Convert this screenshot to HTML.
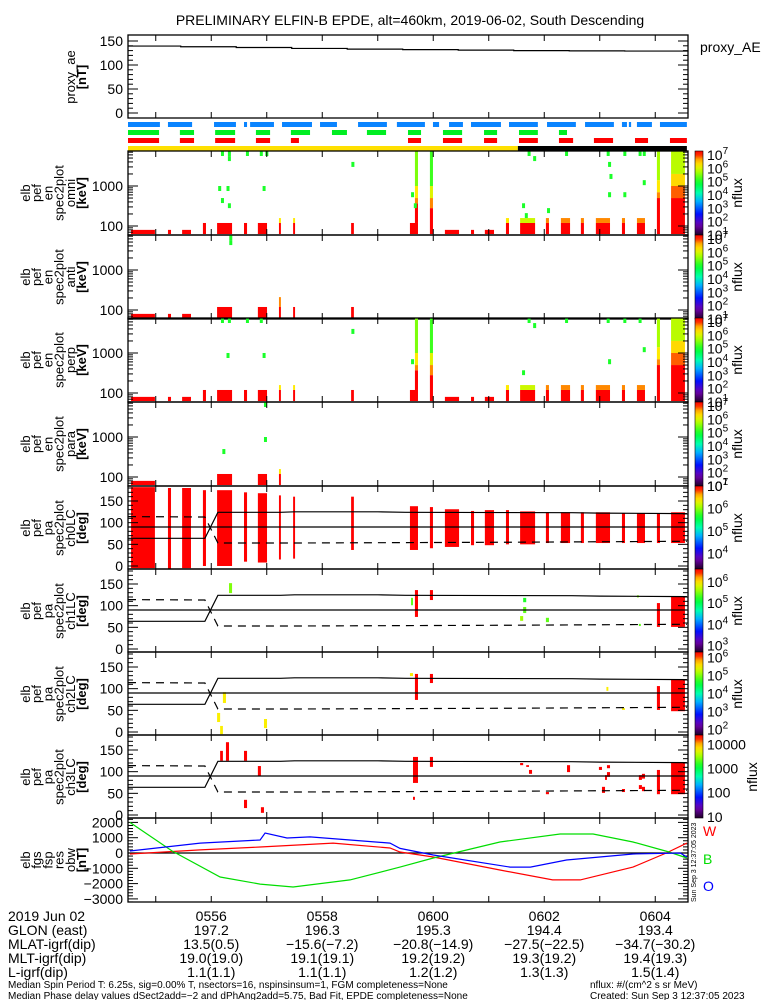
<!DOCTYPE html>
<html><head><meta charset="utf-8"><style>
html,body{margin:0;padding:0;background:#fff;}
svg{display:block;font-family:"Liberation Sans",sans-serif;}
</style></head><body>
<svg id="fig" width="775" height="1000" viewBox="0 0 775 1000" xmlns="http://www.w3.org/2000/svg">
<text x="410" y="25" font-size="14" text-anchor="middle">PRELIMINARY ELFIN-B EPDE, alt=460km, 2019-06-02, South Descending</text>
</svg>
<script>
// time unit: half-minutes since 05:54:30
const aeTimes=[0,1.9,3.9,5.9,7.9,9.9,11.9,13.9,15.9,17.9,20.2];
const aeValues=[139.5,138,136.5,134.5,133,132,131,130,129.5,129,128.5];
const blueBars=[[0,1.15],[1.44,2.31],[3.10,3.89],[4.18,4.29],[4.40,5.26],[5.55,6.63],[6.92,7.53],[8.29,9.33],[9.69,10.70],[10.99,11.21],[11.57,12.07],[12.36,13.44],[13.73,14.77],[15.10,16.14],[16.47,17.51],[17.80,17.98],[18.05,18.13],[18.34,18.88],[19.17,20.14]];
const greenBars=[[0,1.12],[1.87,2.38],[3.14,3.86],[4.61,5.12],[5.87,6.56],[7.35,7.89],[8.61,9.30],[10.09,10.56],[11.35,12.04],[12.83,13.30],[14.09,14.77],[15.53,15.82]];
const redBars=[[0,1.12],[1.87,2.38],[3.14,3.86],[4.61,5.12],[5.87,6.16],[10.09,10.56],[11.35,12.04],[12.83,13.30],[14.09,14.77],[15.53,16.04],[16.79,17.48],[18.27,18.74],[19.53,20.14]];
const yellowBars=[[0,14.05]];
const blackBars=[[14.05,20.14]];
const energyEdges=[63,80,119,158,210,280,370,500,700,1000,1400,2000,2800,4000,5600,7600];
const omniBlocks=[[0.11,0.97,0,0,7],[1.44,1.55,0,0,7],[1.95,2.27,0,0,7],[2.70,2.81,0,1,7],[3.21,3.75,0,1,7],[4.18,4.29,0,1,7],[4.68,5.01,0,1,7],[5.44,5.51,0,1,7],[5.44,5.51,2,2,6],[5.95,6.02,0,1,7],[5.95,6.02,2,2,6],[8.04,8.14,0,1,7],[10.16,10.45,0,1,7],[10.34,10.45,2,5,7],[10.34,10.45,6,6,6.5],[10.34,10.45,7,8,6],[10.34,10.45,9,14,5.3],[10.88,10.99,0,4,7],[10.88,10.99,5,6,6.5],[10.88,10.99,7,8,5.8],[10.88,10.99,9,14,5],[11.42,11.93,0,0,7],[12.36,12.47,0,0,7],[12.86,13.19,0,0,7],[13.62,13.73,0,1,7],[13.62,13.73,2,2,6],[14.13,14.67,0,1,7],[14.13,14.67,2,2,5.7],[15.06,15.17,0,1,7],[15.06,15.17,2,2,6.5],[15.60,15.93,0,1,7],[15.60,15.93,2,2,6.5],[16.32,16.43,0,1,7],[16.32,16.43,2,2,6.5],[16.86,17.37,0,1,7],[16.86,17.37,2,2,6.5],[17.80,17.91,0,1,7],[17.80,17.91,2,2,6.5],[18.34,18.63,0,1,7],[18.34,18.63,2,2,6.5],[19.06,19.17,0,6,7],[19.06,19.17,7,7,6.5],[19.06,19.17,8,9,6],[19.06,19.17,10,14,5.5],[19.57,20.07,0,6,7],[19.57,20.07,7,8,6.6],[19.57,20.07,9,10,6.1],[19.57,20.07,11,14,5.6]];
const omniDots=[[3.35,14],[3.60,14],[3.60,13],[4.25,14],[4.75,14],[4.95,14],[3.25,8],[3.55,8],[3.35,6],[3.60,5],[4.85,8],[8.05,12],[10.2,7],[10.3,5],[14.2,5],[14.3,3],[15.1,4],[14.4,14],[14.6,13],[15.75,14],[17.25,14],[17.3,12],[17.3,7],[17.35,10],[17.85,14],[17.85,7],[18.4,14],[18.55,14],[18.55,9]];
const antiBlocks=[[0.11,0.97,0,0,7],[1.44,1.55,0,0,7],[1.95,2.27,0,0,7],[3.21,3.75,0,1,7],[4.68,5.01,0,1,7],[5.44,5.51,0,1,7],[5.44,5.51,2,3,6.5],[5.95,6.02,0,1,7],[8.04,8.14,0,1,7]];
const antiDots=[[3.65,14],[3.65,13]];
const perpBlocks=omniBlocks.map(b=>b.slice());
const perpDots=[[3.35,14],[3.60,14],[4.25,14],[4.75,14],[3.55,8],[4.85,8],[8.05,12],[10.2,7],[14.2,5],[14.4,14],[14.6,13],[15.75,14],[17.25,14],[17.3,7],[17.85,14],[18.4,14],[18.55,9]];
const paraBlocks=[[0.11,0.97,0,0,7],[3.21,3.75,0,1,7],[4.68,5.01,0,1,7],[5.44,5.51,0,1,7],[5.44,5.51,2,2,6]];
const paraDots=[[3.40,6],[4.9,8],[4.9,14]];
const ch0Blocks=[[0.11,0.97,-5,182,7],[1.44,1.55,-7,180,7],[1.95,2.27,-5,180,7],[2.70,2.81,0,175,7],[3.21,3.75,0,175,7],[4.18,4.29,10,170,7],[4.68,5.01,8,168,7],[5.44,5.51,15,163,7],[5.95,6.02,17,160,7],[8.04,8.14,37,160,7],[10.16,10.45,37,138,7],[10.88,10.99,41,136,7],[11.42,11.93,44,131,7],[12.36,12.47,48,127,7],[12.86,13.19,48,129,7],[13.62,13.73,50,129,7],[14.13,14.67,50,126,7],[15.06,15.17,53,124,7],[15.60,15.93,53,124,7],[16.32,16.43,53,124,7],[16.86,17.37,53,124,7],[17.80,17.91,53,122,7],[18.34,18.63,53,122,7],[19.06,19.17,53,122,7],[19.57,20.07,53,124,7]];
const ch1Blocks=[[3.64,3.75,129,152,5.5],[10.2,10.27,101,118,5.4],[10.34,10.45,74,136,6.6],[10.88,10.99,113,136,6.6],[14.13,14.24,65,76,5.6],[14.24,14.35,83,97,5.4],[14.24,14.35,108,118,5.2],[15.06,15.17,62,72,5.4],[18.34,18.41,119,124,5.5],[18.41,18.48,53,58,5.4],[19.06,19.17,51,106,6.6],[19.57,20.07,51,122,6.6]];
const ch2Blocks=[[3.42,3.53,67,92,5.5],[3.21,3.32,23,44,5.5],[3.32,3.42,-5,14,5.5],[4.9,5.01,9,30,5.5],[10.16,10.27,129,136,5.5],[10.34,10.45,74,134,6.3],[10.88,10.99,113,134,6.3],[17.24,17.31,95,104,5.5],[17.80,17.91,51,55,5.5],[19.06,19.17,51,106,6.3],[19.57,20.07,48,122,6.3]];
const ch3Blocks=[[3.32,3.42,125,148,4.4],[3.53,3.64,125,168,4.4],[4.18,4.29,125,148,4.4],[4.68,4.79,90,113,4.4],[4.18,4.29,16,35,4.4],[4.79,4.90,5,18,4.4],[10.27,10.45,74,134,4.4],[10.27,10.34,35,42,4.4],[10.88,10.99,111,134,4.4],[14.13,14.24,115,120,4.4],[14.35,14.45,111,115,4.4],[14.45,14.56,95,104,4.4],[15.06,15.17,48,53,4.4],[15.82,15.93,99,115,4.4],[16.97,17.08,104,111,4.4],[17.08,17.19,51,65,4.4],[17.19,17.26,81,92,4.4],[17.26,17.37,108,115,4.4],[17.26,17.37,88,99,4.4],[17.80,17.91,53,60,4.4],[18.41,18.52,81,92,4.4],[18.41,18.52,60,69,4.4],[18.52,18.63,55,65,4.4],[18.52,18.63,84,95,4.4],[19.06,19.17,48,104,4.4],[19.57,20.07,48,120,4.4]];
const lcTimes=[0,2.77,3.24,5.5,6.0,9.0,10.0,16.0,17.0,20.14];
const lcUpper=[64,64,124,124,125,125,124,123,122,121];
const dashTimes=[0,2.77,3.24,6,10,14,20.14];
const dashValues=[114,113,53,53,54,55,57];
const fgsGreenT=[0.07,1.59,3.32,4.76,5.95,8.0,9.8,11.0,13.4,15.57,16.76,18.2,19.5,20.14];
const fgsGreen=[2000,130,-1570,-2030,-2220,-1760,-920,-330,720,1240,1240,720,65,-330];
const fgsBlueT=[0.07,2.6,4.76,4.94,5.73,6.56,8.0,9.44,9.8,11.0,13.77,14.5,15.8,18.2,19.9,20.14];
const fgsBlue=[130,650,850,1310,980,1050,850,650,300,-130,-920,-920,-460,-65,0,-260];
const fgsRedT=[0.07,2.6,4.76,7.39,9.44,9.8,11.0,13.4,15.3,16.3,18.2,19.4,20.14];
const fgsRed=[-65,200,390,650,330,65,-260,-1110,-1760,-1760,-920,0,650];
const timeLabels=["0556","0558","0600","0602","0604"];
const timeLabelT=[3,7,11,15,19];
const glon=["197.2","196.3","195.3","194.4","193.4"];
const mlat=["13.5(0.5)","\u221215.6(\u22127.2)","\u221220.8(\u221214.9)","\u221227.5(\u221222.5)","\u221234.7(\u221230.2)"];
const mlt=["19.0(19.0)","19.1(19.1)","19.2(19.2)","19.3(19.2)","19.4(19.3)"];
const lval=["1.1(1.1)","1.1(1.1)","1.2(1.2)","1.3(1.3)","1.5(1.4)"];

const NS="http://www.w3.org/2000/svg";
const svg=document.getElementById('fig');
const X0=128,X1=688,PXT=27.75;
function xT(t){return X0+t*PXT;}
function mk(tag,attrs,parent){const e=document.createElementNS(NS,tag);for(const k in attrs)e.setAttribute(k,attrs[k]);(parent||svg).appendChild(e);return e;}
const stops=[[0,[32,0,40]],[0.12,[112,0,176]],[0.25,[0,16,255]],[0.4,[0,176,255]],[0.5,[0,255,176]],[0.62,[0,255,48]],[0.75,[168,255,0]],[0.83,[255,238,0]],[0.91,[255,153,0]],[0.97,[255,0,0]],[1,[255,0,0]]];
function cmap(n){n=Math.max(0,Math.min(1,n));for(let i=1;i<stops.length;i++){if(n<=stops[i][0]){const a=stops[i-1],b=stops[i],f=(n-a[0])/(b[0]-a[0]);const c=a[1].map((v,j)=>Math.round(v+(b[1][j]-v)*f));return `rgb(${c[0]},${c[1]},${c[2]})`;}}return 'rgb(255,0,0)';}
let gradN=0;
function colorbar(top,h,lmin,lmax,labels,name){
  const id='cb'+(gradN++);
  const g=mk('linearGradient',{id:id,x1:0,y1:1,x2:0,y2:0});
  for(let i=0;i<=20;i++){mk('stop',{offset:i/20,'stop-color':cmap(i/20)},g);}
  const defs=mk('defs',{});defs.appendChild(g);
  const r=mk('rect',{x:695,y:top,width:8,height:h,fill:`url(#${id})`,stroke:'#000','stroke-width':0.6});
  
  
  labels.forEach(L=>{
    const y=top+h-(L[0]-lmin)/(lmax-lmin)*h+5;
    const t=mk('text',{x:707,y:y,'font-size':14});
    
    
    if(L[1]){t.textContent='10';const s=mk('tspan',{dy:-6,'font-size':10},t);s.textContent=String(L[0]);}
    else t.textContent=String(Math.round(Math.pow(10,L[0])));
  });
}
function ylabel(lines,cy,name){
  const g=mk('g',{});
  
  
  const n=lines.length;
  lines.forEach((s,i)=>{const x=86-(n-1-i)*11.2;const t=mk('text',{x:x,y:cy,'font-size':13,'text-anchor':'middle',transform:`rotate(-90 ${x} ${cy})`,'font-weight':s.startsWith('[')?'bold':'normal'},g);t.textContent=s;});
}
function frame(top,bot,name){
  const r=mk('rect',{x:X0,y:top,width:X1-X0,height:bot-top,fill:'none',stroke:'#000','stroke-width':1.3});
  
  
  for(let t=1;t<=20;t+=2){mk('line',{x1:xT(t),x2:xT(t),y1:bot,y2:bot-6,stroke:'#000'});mk('line',{x1:xT(t),x2:xT(t),y1:top,y2:top+6,stroke:'#000'});}
}
function ytick(y,major,label,top,bot){
  if(y<top-0.5||y>bot+0.5)return;
  const L=major?10:5;
  mk('line',{x1:X0,x2:X0+L,y1:y,y2:y,stroke:'#000'});
  mk('line',{x1:X1,x2:X1-L,y1:y,y2:y,stroke:'#000'});
  if(label!==null){const t=mk('text',{x:123,y:y+5,'font-size':14,'text-anchor':'end'});t.textContent=label;}
}
// AE panel
(function(){const top=35,bot=118;const yv=v=>113-v*0.48;
  frame(top,bot,'proxy-ae');
  for(let v=0;v<=150;v+=10)ytick(yv(v),v%50==0,v%50==0?String(v):null,top,bot);
  let d='';aeTimes.forEach((t,i)=>{if(i<aeTimes.length-1){d+=(i?'L':'M')+xT(t)+' '+yv(aeValues[i])+'L'+xT(aeTimes[i+1])+' '+yv(aeValues[i]);}});
  const p=mk('path',{d:d,fill:'none',stroke:'#000','stroke-width':1.2});
  
  
  ylabel(['proxy_ae','[nT]'],77,'proxy-ae-axis-title');
  const t=mk('text',{x:700,y:52,'font-size':14});t.textContent='proxy_AE';
})();
// status bars
[[blueBars,122,5,'#0a84ff','blue'],[greenBars,130,5,'#00ee22','green'],[redBars,138,5,'#ff0000','red'],[yellowBars,146,5,'#ffe000','yellow'],[blackBars,146,5,'#000000','black']].forEach(B=>{
  B[0].forEach(s=>{const r=mk('rect',{x:xT(s[0]),y:B[1],width:xT(s[1])-xT(s[0]),height:B[2],fill:B[3]});
    
    });
});
// energy panels
function energyPanel(top,blocks,dots,title,name){
  const bot=top+84;const yE=E=>top+35+40*(3-Math.log10(E));
  const clip=v=>Math.max(top,Math.min(bot,v));
  blocks.forEach(b=>{const y1=clip(yE(energyEdges[b[3]+1])),y2=clip(yE(energyEdges[b[2]]));
    const r=mk('rect',{x:xT(b[0]),y:y1,width:xT(b[1])-xT(b[0]),height:y2-y1,fill:cmap((b[4]-1)/6)});
    
    });
  dots.forEach(d=>{const y1=clip(yE(energyEdges[d[1]+1])),y2=clip(yE(energyEdges[d[1]]));
    const r=mk('rect',{x:xT(d[0]),y:y1,width:3,height:Math.min(y2-y1,5),fill:cmap(0.64)});
    
    });
  frame(top,bot,name);
  [10,100,1000].forEach(dec=>{for(let m=1;m<10;m++){const E=dec*m;ytick(yE(E),m==1,(m==1&&(E==100||E==1000))?String(E):null,top,bot);}});
  ylabel(['elb','pef','en','spec2plot',title,'[keV]'],top+42,name+'-axis-title');
  colorbar(top,84,1,7.3,[[7,1],[6,1],[5,1],[4,1],[3,1],[2,1],[1,1]],name);
  const t=mk('text',{x:742,y:top+42,'font-size':14,'text-anchor':'middle',transform:`rotate(-90 742 ${top+42})`});t.textContent='nflux';
}
energyPanel(151,omniBlocks,omniDots,'omni','omni-spectrogram');
energyPanel(235,antiBlocks,antiDots,'anti','anti-spectrogram');
energyPanel(318,perpBlocks,perpDots,'perp','perp-spectrogram');
energyPanel(402,paraBlocks,paraDots,'para','para-spectrogram');
// pitch angle panels
function lineFrom(ts,vs,yf,dash,name){let d='';ts.forEach((t,i)=>{d+=(i?'L':'M')+xT(t).toFixed(1)+' '+yf(vs[i]).toFixed(1);});
  const p=mk('path',{d:d,fill:'none',stroke:'#000','stroke-width':1.2});if(dash)p.setAttribute('stroke-dasharray','8 6');
  
  }
function paPanel(top,blocks,ch,lmin,lmax,labels,name,nx){
  const bot=top+83;const yd=d=>top+80-d*0.4333;const clip=v=>Math.max(top,Math.min(bot,v));
  blocks.forEach(b=>{const y1=clip(yd(b[3])),y2=clip(yd(b[2]));
    const r=mk('rect',{x:xT(b[0]),y:y1,width:xT(b[1])-xT(b[0]),height:y2-y1,fill:cmap((b[4]-lmin)/(lmax-lmin))});
    
    });
  lineFrom(lcTimes,lcUpper,yd,false,'loss-cone-line');
  lineFrom([0,20.14],[90,90],yd,false,'ninety-degree-line');
  lineFrom(dashTimes,dashValues,yd,true,'anti-loss-cone-line');
  frame(top,bot,name);
  for(let v=0;v<=180;v+=10)ytick(yd(v),v%50==0,(v%50==0&&v<=150)?String(v):null,top,bot);
  ylabel(['elb','pef','pa','spec2plot',ch,'[deg]'],top+42,name+'-axis-title');
  colorbar(top,83,lmin,lmax,labels,name);
  const t=mk('text',{x:nx,y:top+42,'font-size':14,'text-anchor':'middle',transform:`rotate(-90 ${nx} ${top+42})`});t.textContent='nflux';
}
paPanel(486,ch0Blocks,'ch0LC',3.3,7,[[7,1],[6,1],[5,1],[4,1]],'ch0lc-pitch',742);
paPanel(569,ch1Blocks,'ch1LC',2.7,6.6,[[6,1],[5,1],[4,1],[3,1]],'ch1lc-pitch',742);
paPanel(652,ch2Blocks,'ch2LC',1.7,6.3,[[6,1],[5,1],[4,1],[3,1],[2,1]],'ch2lc-pitch',742);
paPanel(735,ch3Blocks,'ch3LC',0.95,4.4,[[4,0],[3,0],[2,0],[1,0]],'ch3lc-pitch',757);
// fgs panel
(function(){const top=818,bot=902;const yv=v=>853-v*0.0153;
  frame(top,bot,'fgs');
  for(let v=-3400;v<=2400;v+=200)ytick(yv(v),v%1000==0,(v%1000==0&&v>=-3000&&v<=2000)?String(v).replace('-','\u2212'):null,top,bot);
  mk('line',{x1:X0,x2:X1,y1:yv(0),y2:yv(0),stroke:'#000','stroke-width':1.3});
  [[fgsRedT,fgsRed,'#ff0000','fgs-w-line'],[fgsGreenT,fgsGreen,'#00dd00','fgs-b-line'],[fgsBlueT,fgsBlue,'#0000ff','fgs-o-line']].forEach(S=>{
    let d='';S[0].forEach((t,i)=>{d+=(i?'L':'M')+xT(t).toFixed(1)+' '+yv(S[1][i]).toFixed(1);});
    const p=mk('path',{d:d,fill:'none',stroke:S[2],'stroke-width':1.2});
    
    });
  ylabel(['elb','fgs','fsp','res','obw','[nT]'],860,'fgs-axis-title');
  [['W','#ff0000',836],['B','#00dd00',864],['O','#0000ff',891]].forEach(L=>{const t=mk('text',{x:703,y:L[2],'font-size':14,fill:L[1]});t.textContent=L[0];});
  const s=mk('text',{x:696,y:902,'font-size':7,transform:'rotate(-90 696 902)'});s.textContent='Sun Sep  3 12:37:05 2023';
})();
// bottom annotation rows
const rowsL=['2019 Jun 02','GLON (east)','MLAT-igrf(dip)','MLT-igrf(dip)','L-igrf(dip)'];
const rowsV=[timeLabels,glon,mlat,mlt,lval];
rowsL.forEach((s,i)=>{const y=921+i*14;
  const t=mk('text',{x:8,y:y,'font-size':14});t.textContent=s;
  rowsV[i].forEach((v,j)=>{const u=mk('text',{x:xT(timeLabelT[j]),y:y,'font-size':14,'text-anchor':'middle'});u.textContent=v;});
});
[['Median Spin Period T: 6.25s, sig=0.00% T, nsectors=16, nspinsinsum=1, FGM completeness=None',8,988],['Median Phase delay values dSect2add=\u22122 and dPhAng2add=5.75, Bad Fit, EPDE completeness=None',8,999],['nflux: #/(cm^2 s sr MeV)',590,988],['Created: Sun Sep  3 12:37:05 2023',590,999]].forEach(F=>{
  const t=mk('text',{x:F[1],y:F[2],'font-size':10});t.textContent=F[0];});
</script>
</body></html>
